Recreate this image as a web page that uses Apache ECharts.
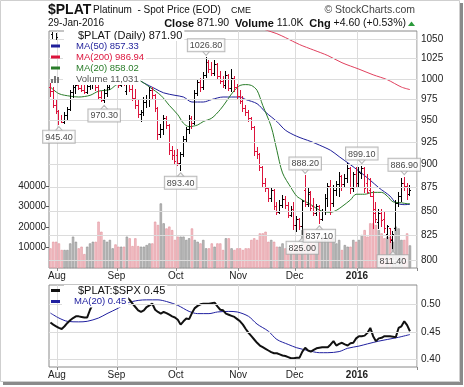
<!DOCTYPE html>
<html>
<head>
<meta charset="utf-8">
<script src="https://cdn.jsdelivr.net/npm/echarts@6/dist/echarts.min.js"></script>
<style>
html,body{margin:0;padding:0;background:#fff;}
#c{width:464px;height:387px;}
</style>
</head>
<body>
<div id="c"></div>
<script>
// ---------- trading days ----------
const jul15 = [29,30,31];
const aug15 = [3,4,5,6,7,10,11,12,13,14,17,18,19,20,21,24,25,26,27,28,31];
const sep15 = [1,2,3,4,8,9,10,11,14,15,16,17,18,21,22,23,24,25,28,29,30];
const oct15 = [1,2,5,6,7,8,9,12,13,14,15,16,19,20,21,22,23,26,27,28,29,30];
const nov15 = [2,3,4,5,6,9,10,11,12,13,16,17,18,19,20,23,24,25,27,30];
const dec15 = [1,2,3,4,7,8,9,10,11,14,15,16,17,18,21,22,23,24,28,29,30,31];
const jan16 = [4,5,6,7,8,11,12,13,14,15,19,20,21,22,25,26,27,28,29];

// ---------- OHLC ----------
const opens = [990,985,968,961,950,948,956,963,983,989,992,988,986,984,991,993,995,990,977,974,982,990,998,1000,
 996,992,998,985,1002,987,976,968,957,959,972,975,986,980,964,934,940,952,944,916,910,
 910,901,911,928,940,952,947,982,995,990,1004,1020,1012,1007,1018,1003,997,992,1004,988,1001,989,
 979,973,964,960,952,942,915,911,897,880,874,863,872,855,849,856,862,856,846,852,
 835,842,834,872,857,868,855,848,855,842,850,864,876,858,872,878,887,878,885,896,874,889,
 880,890,896,880,872,866,852,838,848,842,826,832,820,832,858,866,880,876,868];
const highs = [995,990,976,963,957,960,966,987,993,995,1000,997,994,994,996,1000,998,993,985,988,993,1002,1005,1006,
 1000,1002,1002,1010,1008,992,988,974,962,978,980,990,990,982,966,946,957,955,946,921,916,
 918,914,932,943,957,955,986,999,1001,1008,1026.8,1024,1021,1023,1020,1010,1003,1010,1006,1012,1004,994,
 986,979,968,962,954,944,920,913,899,885,876,876,874,860,862,867,866,860,856,860,
 845,843,862,888.2,876,872,864,858,857,852,868,880,883,878,882,892,889,890,902,898,892,897,
 897,899.1,897,890,886,872,860,852,852,850,836,833,830,862,870,885,886.9,880,878];
const lows = [978,965,958,945.4,947,946,951,961,977,982,986,984,982,982,986,988,985,974,972,970.3,978,986,992,992,
 989,990,991,980,984,973,964,953,949,955,965,966,974,960,928,930,934,940,911,905,900,
 899,893.4,909,925,935,940,945,979,984,987,1001,1007,1004,1003,999,994,989,988,985,984,984,975,
 970,960,955,949,939,910,906,893,876,870,860,860,851,846,847,853,852,843,844,831,
 829,831,825,855,855,850,845,845,837.1,840,846,855,846,855,866,865,872,875,880,868,870,875,
 876,884,869,868,865,832,838,832,834,828,822,818,811.4,830,855,860,872,862,866];
const closes = [985,968,961,950,948,956,963,983,989,992,988,986,984,991,993,995,990,977,974,982,990,998,1000,996,
 992,998,994,1002,987,976,968,957,959,972,975,986,980,964,934,940,952,944,916,910,904,
 901,911,928,940,952,947,982,995,990,1004,1020,1012,1007,1018,1003,997,992,1004,988,1001,989,979,
 973,964,960,952,942,915,911,897,880,874,863,872,855,849,856,862,856,846,852,835,
 842,834,860,857,870,853,848,855,842,850,864,876,858,872,878,887,878,885,896,874,889,880,
 892,896,874,870,866,848,842,848,840,832,834,821,826,858,866,880,876,867.3,871.9];
const volumes = [9600,12800,12800,12000,8800,8800,8800,12000,15300,12800,9600,10400,6800,10400,12000,12800,12800,22600,17700,13700,12800,13700,9600,11500,
 10400,10400,10400,15300,14500,10700,14500,10700,10400,10400,11200,12000,12000,22600,21000,31500,21800,19300,20200,18500,13700,
 15300,15300,15300,13700,14500,19300,13700,12800,12000,13700,9600,9600,12000,10400,12000,12000,8800,14500,14500,9600,8800,9600,
 9600,8800,9600,9600,13700,14500,13700,16900,16900,17700,12800,13700,12800,10400,10400,12000,9600,8800,8000,12000,
 10400,11200,18500,18500,12000,12800,12000,13700,13700,15300,13700,14500,14500,14500,12000,13700,8800,11200,10400,10400,13700,12800,
 13700,16100,18500,15300,21800,21800,21000,18500,16900,14500,15300,15300,12800,20200,19300,13700,13700,16900,11031];

// ---------- moving averages: [dayIndex, value] ----------
const ma20 = [[0,990],[3,982],[7,979],[10,978],[14,980],[17,985],[21,987],[23,992],[28,1002],[32,997],[35,990],[39,980],[42,968],[45,957],[47,947],[49,943],[52,945],[54,949],[57,953],[60,963],[62,972],[63,977],[65,986],[67,992],[69,993],[71,992],[73,986],[75,968],[78,943],[80,916],[82,891],[85,875],[87,866],[89,862],[92,857],[94,853],[96,850],[99,849],[101,851],[103,855],[106,862],[108,868],[111,868],[114,870],[117,870],[119,866],[121,860],[124,859],[126,858],[127,858.02]];
const ma50 = [[27,1004],[30,1001],[33,995],[37,988],[40,983],[44,980],[47,978],[50,972],[54,972],[57,975],[61,978],[64,978],[67,978],[69,975],[73,970],[76,960],[80,949],[83,939],[87,932],[92,926],[95,922],[99,916],[102,909],[106,900],[109,893],[113,883],[116,875],[120,866],[122,859],[125,857],[127,857.33]];
const ma200 = [[72,1068],[76,1062],[80,1057],[83,1052],[88,1043],[93,1036],[98,1029],[103,1020],[109,1012],[114,1005],[119,999],[124,990],[127,986.94]];

// ---------- $PLAT:$SPX ratio ----------
const ratio = [0.467,0.463,0.460,0.457,0.455,0.460,0.466,0.471,0.475,0.478,
 0.478,0.477,0.476,0.476,0.490,0.501,0.505,0.510,0.508,0.512,
 0.515,0.520,0.525,0.528,0.525,0.522,0.517,0.513,0.508,0.501,
 0.495,0.489,0.486,0.489,0.495,0.498,0.501,0.490,0.486,0.483,
 0.486,0.484,0.481,0.478,0.476,0.472,0.463,0.469,0.474,0.473,
 0.484,0.493,0.497,0.500,0.501,0.501,0.501,0.502,0.503,0.496,
 0.490,0.489,0.483,0.481,0.479,0.477,0.473,0.469,0.463,0.455,
 0.448,0.442,0.436,0.430,0.425,0.422,0.419,0.416,0.413,0.411,
 0.411,0.409,0.407,0.406,0.404,0.402,0.402,0.403,0.403,0.414,
 0.421,0.416,0.414,0.417,0.420,0.421,0.422,0.422,0.422,0.427,
 0.433,0.425,0.428,0.430,0.427,0.425,0.429,0.430,0.438,0.442,
 0.442,0.443,0.448,0.457,0.442,0.433,0.438,0.439,0.442,0.442,
 0.442,0.441,0.440,0.457,0.460,0.469,0.462,0.451];
const ratioMa20 = [[0,0.484],[3,0.475],[6,0.469],[10,0.468],[13,0.469],[17,0.475],[20,0.483],[24,0.493],[27,0.502],[31,0.507],[34,0.508],[38,0.508],[41,0.505],[45,0.498],[49,0.487],[52,0.483],[56,0.483],[59,0.486],[63,0.487],[66,0.486],[70,0.478],[73,0.464],[77,0.451],[80,0.436],[84,0.427],[87,0.421],[91,0.416],[95,0.412],[98,0.412],[102,0.414],[105,0.420],[109,0.424],[112,0.428],[116,0.433],[119,0.436],[123,0.440],[127,0.445]];

// ---------- ticks & annotations ----------
const priceTicks = [800,825,850,875,900,925,950,975,1000,1025,1050];
const volTicks = [10000,20000,30000,40000];
const ratioTicks = [0.40,0.45,0.50];
const highMarks = [55,90,110,125];
const lowMarks = [3,19,46,89,95,121];
const monthNames = {'01':'2016','02':'Feb','07':'Jul','08':'Aug','09':'Sep','10':'Oct','11':'Nov','12':'Dec'};

// ---------- build ----------
function mk(y,m,days){return days.map(d=>y+'-'+m+'-'+String(d).padStart(2,'0'));}
const dates = [].concat(mk(2015,'07',jul15),mk(2015,'08',aug15),mk(2015,'09',sep15),mk(2015,'10',oct15),mk(2015,'11',nov15),mk(2015,'12',dec15),mk(2016,'01',jan16));
const cats = dates.concat(['pad1','pad2']);
const N = dates.length;
const up = closes.map((c,i)=> (i===0 ? c>=opens[0] : c>=closes[i-1]) ? 1 : 0);
function isMonthStart(i){return i>0 && i<N && dates[i].slice(5,7)!==dates[i-1].slice(5,7);}

const FONT = '"Liberation Sans", Arial, Helvetica, sans-serif';
const RED = '#dc143c';

const xLabel = {
  interval:(i)=>isMonthStart(i),
  formatter:(v)=>{const m=v.slice(5,7); return m==='01'?'{b|'+monthNames[m]+'}':monthNames[m];},
  fontSize:10, fontFamily:FONT, color:'#222', margin:3, padding:[0,4,0,0],
  rich:{b:{fontWeight:'bold',fontSize:10,fontFamily:FONT,color:'#222'}}
};
const xSplit = {show:true, interval:(i)=>isMonthStart(i), lineStyle:{color:'#dcdcdc',width:1}};
const xTick = {show:true, interval:(i)=>isMonthStart(i), length:3, lineStyle:{color:'#888'}};

const chart = echarts.init(document.getElementById('c'), null, {renderer:'canvas', width:464, height:387});

const gridMarkLabel = {position:'end', color:'#222', fontSize:10, fontFamily:FONT, distance:4};
const annLabel = {show:true, distance:5, formatter:(p)=>p.value[1].toFixed(2), color:'#111', fontSize:9, fontFamily:FONT,
  backgroundColor:'#fff', borderColor:'#a8a8a8', borderWidth:1, padding:[2,2,1,2]};

const option = {
  animation:false,
  backgroundColor:'#fff',
  grid:[
    {left:49, top:31, width:368, height:237, show:true, borderColor:'#8a8a8a', borderWidth:1, backgroundColor:'#fff'},
    {left:49, top:285, width:368, height:82, show:true, borderColor:'#8a8a8a', borderWidth:1, backgroundColor:'#fff'}
  ],
  xAxis:[
    {gridIndex:0, type:'category', data:cats, boundaryGap:true, axisLine:{show:false}, axisTick:xTick, axisLabel:xLabel, splitLine:xSplit},
    {gridIndex:1, type:'category', data:cats, boundaryGap:true, axisLine:{show:false}, axisTick:xTick, axisLabel:xLabel, splitLine:xSplit}
  ],
  yAxis:[
    {gridIndex:0, type:'log', logBase:10, min:792.9, max:1060.5, position:'right', axisLine:{show:false}, axisTick:{show:false}, axisLabel:{show:false}, splitLine:{show:false}},
    {gridIndex:0, type:'value', min:0, max:115600, position:'left', axisLine:{show:false}, splitLine:{show:false},
      axisTick:{show:true, customValues:volTicks, length:3, lineStyle:{color:'#555'}},
      axisLabel:{customValues:volTicks, fontSize:10, fontFamily:FONT, color:'#222', margin:3, formatter:(v)=>String(v)}},
    {gridIndex:1, type:'value', min:0.386, max:0.535, position:'right', axisLine:{show:false}, axisTick:{show:false}, axisLabel:{show:false}, splitLine:{show:false}}
  ],
  series:[
    {type:'line', xAxisIndex:0, yAxisIndex:0, data:[], z:0, silent:true,
      markLine:{silent:true, symbol:'none', animation:false, lineStyle:{color:'#dcdcdc',width:1,type:'solid'},
        label:Object.assign({formatter:(p)=>String(p.value)}, gridMarkLabel), emphasis:{disabled:true},
        data:priceTicks.map(v=>({yAxis:v}))}},
    {type:'bar', xAxisIndex:0, yAxisIndex:1, z:1, barCategoryGap:'18%', silent:true,
      data:volumes.map((v,i)=>({value:v, itemStyle:{color: up[i]?'#bdbdbd':'#f3c1c6', borderColor: up[i]?'#8c8c8c':'#e0909a', borderWidth:0.6}}))},
    {type:'line', xAxisIndex:0, yAxisIndex:0, z:3, data:ma200, showSymbol:false, smooth:0.3, lineStyle:{color:'#e0405e',width:1}, silent:true},
    {type:'line', xAxisIndex:0, yAxisIndex:0, z:3, data:ma50, showSymbol:false, smooth:0.3, lineStyle:{color:'#1f1f9a',width:1}, silent:true},
    {type:'line', xAxisIndex:0, yAxisIndex:0, z:3, data:ma20, showSymbol:false, smooth:0.3, lineStyle:{color:'#2a7d2a',width:1}, silent:true},
    {type:'custom', xAxisIndex:0, yAxisIndex:0, z:4, silent:true,
      data:dates.map((d,i)=>[i, opens[i], highs[i], lows[i], closes[i], up[i]]),
      encode:{x:0, y:[1,2,3,4]},
      renderItem:(params, api)=>{
        const i=api.value(0);
        const col = api.value(5)===1 ? '#000000' : RED;
        const ph=api.coord([i,api.value(2)]), pl=api.coord([i,api.value(3)]);
        const po=api.coord([i,api.value(1)]), pc=api.coord([i,api.value(4)]);
        const xi=Math.round(ph[0]-0.5);
        const x=xi+0.5;
        const yo=Math.round(po[1]-0.5)+0.5, yc=Math.round(pc[1]-0.5)+0.5;
        return {type:'group', children:[
          {type:'line', shape:{x1:x,y1:Math.round(ph[1]),x2:x,y2:Math.round(pl[1])}, style:{stroke:col,lineWidth:1}},
          {type:'line', shape:{x1:xi-1,y1:yo,x2:xi,y2:yo}, style:{stroke:col,lineWidth:1}},
          {type:'line', shape:{x1:xi+1,y1:yc,x2:xi+2,y2:yc}, style:{stroke:col,lineWidth:1}}
        ]};
      }},
    // pointers of the annotation boxes
    {type:'scatter', xAxisIndex:0, yAxisIndex:0, z:6, silent:true, symbol:'triangle', symbolRotate:180, symbolSize:[7,4], symbolOffset:[0,-4],
      itemStyle:{color:'#fff', borderColor:'#a8a8a8', borderWidth:1},
      data:highMarks.map(i=>[i, highs[i]])},
    {type:'scatter', xAxisIndex:0, yAxisIndex:0, z:6, silent:true, symbol:'triangle', symbolSize:[7,4], symbolOffset:[0,4],
      itemStyle:{color:'#fff', borderColor:'#a8a8a8', borderWidth:1},
      data:lowMarks.map(i=>[i, lows[i]])},
    {type:'scatter', xAxisIndex:0, yAxisIndex:0, z:7, silent:true, symbolSize:2, itemStyle:{color:'rgba(0,0,0,0)'},
      data:highMarks.map(i=>[i, highs[i]]),
      label:Object.assign({position:'top'}, annLabel, {distance:5})},
    {type:'scatter', xAxisIndex:0, yAxisIndex:0, z:7, silent:true, symbolSize:2, itemStyle:{color:'rgba(0,0,0,0)'},
      data:lowMarks.map(i=>[i, lows[i]]),
      label:Object.assign({position:'bottom'}, annLabel, {distance:5})},
    {type:'line', xAxisIndex:1, yAxisIndex:2, data:[], z:0, silent:true,
      markLine:{silent:true, symbol:'none', animation:false, lineStyle:{color:'#dcdcdc',width:1,type:'solid'},
        label:Object.assign({formatter:(p)=>Number(p.value).toFixed(2)}, gridMarkLabel), emphasis:{disabled:true},
        data:ratioTicks.map(v=>({yAxis:v}))}},
    {type:'line', xAxisIndex:1, yAxisIndex:2, z:3, data:ratioMa20, showSymbol:false, smooth:0.3, lineStyle:{color:'#2020a0',width:1}, silent:true},
    {type:'line', xAxisIndex:1, yAxisIndex:2, z:4, data:ratio, showSymbol:false, lineStyle:{color:'#111',width:2}, silent:true}
  ],
  graphic:{elements:[
    // title
    {type:'text', x:48, y:10, z:100, style:{text:'$PLAT', fontSize:14, fontWeight:'bold', fontFamily:FONT, fill:'#111', verticalAlign:'middle'}},
    {type:'text', x:93, y:10.5, z:100, style:{text:'Platinum  - Spot Price (EOD)', fontSize:10, fontFamily:FONT, fill:'#111', verticalAlign:'middle'}},
    {type:'text', x:231, y:11, z:100, style:{text:'CME', fontSize:9, fontFamily:FONT, fill:'#111', verticalAlign:'middle'}},
    {type:'text', x:415, y:10.5, z:100, style:{text:'\u00A9 StockCharts.com', fontSize:10.5, fontFamily:FONT, fill:'#444', align:'right', verticalAlign:'middle'}},
    {type:'text', x:48, y:23.5, z:100, style:{text:'29-Jan-2016', fontSize:10, fontFamily:FONT, fill:'#111', verticalAlign:'middle'}},
    {type:'text', x:406, y:23.5, z:100, style:{text:'{b|Close} 871.90  {b|Volume} 11.0K  {b|Chg} +4.60 (+0.53%)', fontSize:10.5, fontFamily:FONT, fill:'#111', align:'right', verticalAlign:'middle',
      rich:{b:{fontWeight:'bold', fontSize:11, fontFamily:FONT, fill:'#111'}}}},
    {type:'polygon', z:100, shape:{points:[[408,26],[415,26],[411.5,21.5]]}, style:{fill:'#2a9a3a'}},
    // main legend
    {type:'text', x:64, y:35.5, z:100, style:{text:'$PLAT (Daily) 871.90', fontSize:11, fontFamily:FONT, fill:'#111', verticalAlign:'middle', backgroundColor:'#fff', padding:[0,2,0,14]}},
    {type:'text', x:63, y:46, z:100, style:{text:'MA(50) 857.33', fontSize:9.5, fontFamily:FONT, fill:'#1f1f9a', verticalAlign:'middle', backgroundColor:'#fff', padding:[1,2,1,13]}},
    {type:'text', x:63, y:57, z:100, style:{text:'MA(200) 986.94', fontSize:9.5, fontFamily:FONT, fill:RED, verticalAlign:'middle', backgroundColor:'#fff', padding:[1,2,1,13]}},
    {type:'text', x:63, y:68, z:100, style:{text:'MA(20) 858.02', fontSize:9.5, fontFamily:FONT, fill:'#2a7d2a', verticalAlign:'middle', backgroundColor:'#fff', padding:[1,2,1,13]}},
    {type:'text', x:63, y:79, z:100, style:{text:'Volume 11,031', fontSize:9.5, fontFamily:FONT, fill:'#555', verticalAlign:'middle', backgroundColor:'#fff', padding:[1,2,1,13]}},
    {type:'line', z:101, shape:{x1:52.5,y1:32,x2:52.5,y2:39}, style:{stroke:'#111',lineWidth:1}},
    {type:'line', z:101, shape:{x1:51,y1:34.5,x2:53,y2:34.5}, style:{stroke:'#111',lineWidth:1}},
    {type:'line', z:101, shape:{x1:56.5,y1:33,x2:56.5,y2:40}, style:{stroke:'#111',lineWidth:1}},
    {type:'line', z:101, shape:{x1:56,y1:37.5,x2:58,y2:37.5}, style:{stroke:'#111',lineWidth:1}},
    {type:'line', z:101, shape:{x1:51,y1:46,x2:60,y2:46}, style:{stroke:'#1f1f9a',lineWidth:3}},
    {type:'line', z:101, shape:{x1:51,y1:57,x2:60,y2:57}, style:{stroke:RED,lineWidth:3}},
    {type:'line', z:101, shape:{x1:51,y1:68,x2:60,y2:68}, style:{stroke:'#2a7d2a',lineWidth:3}},
    {type:'rect', z:101, shape:{x:51,y:79,width:2,height:4}, style:{fill:'#777'}},
    {type:'rect', z:101, shape:{x:54,y:76,width:2,height:7}, style:{fill:'#777'}},
    {type:'rect', z:101, shape:{x:57,y:77,width:2,height:6}, style:{fill:'#777'}},
    // ratio legend
    {type:'text', x:64, y:290.5, z:100, style:{text:'$PLAT:$SPX 0.45', fontSize:11, fontFamily:FONT, fill:'#111', verticalAlign:'middle', backgroundColor:'#fff', padding:[0,2,0,14]}},
    {type:'text', x:62, y:301.5, z:100, style:{text:'MA(20) 0.45', fontSize:9.5, fontFamily:FONT, fill:'#2020a0', verticalAlign:'middle', backgroundColor:'#fff', padding:[1,2,1,12]}},
    {type:'line', z:101, shape:{x1:51,y1:290.5,x2:60,y2:290.5}, style:{stroke:'#111',lineWidth:3}},
    {type:'line', z:101, shape:{x1:51,y1:301.5,x2:60,y2:301.5}, style:{stroke:'#2020a0',lineWidth:3}},
    // frame with shadow
    {type:'rect', z:90, shape:{x:0.5,y:0.5,width:459,height:381}, style:{fill:null, stroke:'#cfcfcf', lineWidth:1}},
    {type:'rect', z:90, shape:{x:460,y:3,width:3,height:382}, style:{fill:'#8a8a8a'}},
    {type:'rect', z:90, shape:{x:3,y:382,width:460,height:3}, style:{fill:'#8a8a8a'}}
  ]}
};
chart.setOption(option);
</script>
</body>
</html>
